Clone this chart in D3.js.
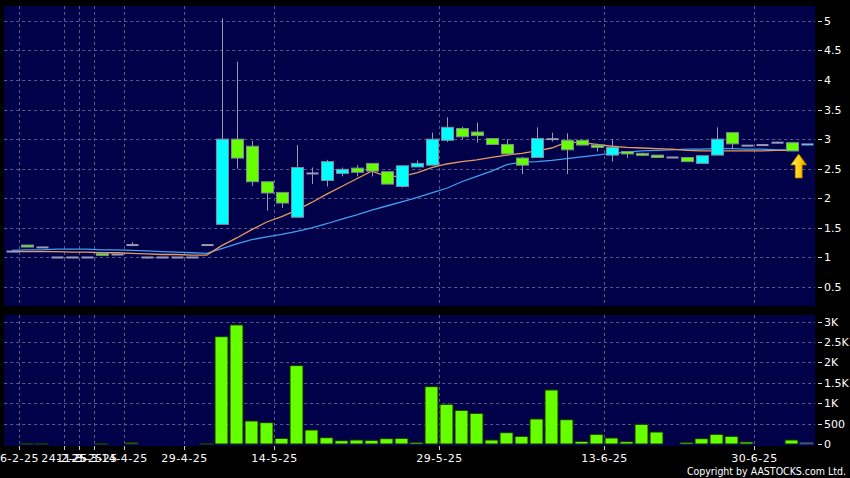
<!DOCTYPE html>
<html><head><meta charset="utf-8">
<script src="https://cdn.jsdelivr.net/npm/d3@7/dist/d3.min.js"></script>
<style>html,body{margin:0;padding:0;background:#000;overflow:hidden}</style>
</head><body><svg id="c" width="850" height="478"></svg>
<script>
// ---- data (one entry per trading slot, left to right) ----
const open  = [1.10,1.21,1.17,1.00,1.00,1.00,1.07,1.05,1.21,1.00,1.00,1.00,1.00,1.21,
  1.56,3.00,2.88,2.28,2.10,1.68,2.42,2.30,2.42,2.51,2.59,2.45,2.20,2.53,
  2.56,2.98,3.18,3.12,3.01,2.91,2.68,2.69,3.00,2.98,2.98,2.90,2.73,
  2.79,2.76,2.73,2.69,2.69,2.59,2.73,3.11,2.89,2.90,2.94,2.94,2.91];
const high  = [1.10,1.21,1.17,1.00,1.00,1.00,1.07,1.05,1.26,1.00,1.00,1.00,1.00,1.21,
  5.04,4.31,2.97,2.28,2.10,2.90,2.52,2.65,2.52,2.56,2.59,2.45,2.55,2.64,
  3.11,3.37,3.21,3.28,3.01,3.00,2.70,3.20,3.11,3.10,2.98,2.90,3.00,
  2.79,2.77,2.73,2.69,2.69,2.72,3.20,3.11,2.89,2.90,2.96,2.94,2.91];
const low   = [1.10,1.19,1.17,1.00,1.00,1.00,1.05,1.05,1.21,0.98,1.00,1.00,1.00,1.21,
  1.56,2.50,2.21,1.79,1.84,1.68,2.24,2.20,2.37,2.37,2.37,2.24,2.18,2.53,
  2.56,2.95,3.00,2.94,2.91,2.75,2.41,2.69,2.96,2.41,2.90,2.79,2.62,
  2.68,2.72,2.69,2.69,2.62,2.59,2.73,2.83,2.89,2.90,2.93,2.80,2.91];
const close = [1.10,1.19,1.17,1.00,1.00,1.00,1.05,1.05,1.21,1.00,1.00,1.00,1.00,1.21,
  3.00,2.68,2.28,2.09,1.92,2.52,2.42,2.62,2.49,2.44,2.46,2.24,2.55,2.59,
  3.00,3.20,3.04,3.06,2.91,2.75,2.56,3.01,3.00,2.82,2.90,2.86,2.86,
  2.75,2.73,2.69,2.69,2.62,2.72,3.00,2.92,2.89,2.90,2.93,2.80,2.91];
const volume = [0,20,10,0,0,0,15,0,30,0,0,0,0,10,
  2630,2917,564,523,139,1920,343,155,82,98,90,131,139,41,
  1405,972,825,752,98,278,188,613,1324,596,65,237,147,
  57,482,294,0,41,131,237,188,49,0,0,98,30];
const maShort = [1.10,1.10,1.10,1.10,1.09,1.09,1.08,1.08,1.07,1.06,1.05,1.05,1.04,1.04,
  1.20,1.33,1.47,1.60,1.69,1.80,1.93,2.07,2.20,2.33,2.46,2.37,2.37,2.43,
  2.52,2.58,2.62,2.65,2.69,2.73,2.76,2.80,2.85,2.95,2.94,2.91,2.88,
  2.86,2.85,2.84,2.83,2.81,2.80,2.80,2.80,2.80,2.80,2.81,2.81,null];
const maLong = [1.12,1.13,1.13,1.14,1.14,1.14,1.13,1.13,1.12,1.11,1.10,1.09,1.08,1.07,
  1.15,1.23,1.30,1.35,1.39,1.44,1.50,1.57,1.65,1.72,1.80,1.87,1.94,2.01,
  2.09,2.17,2.28,2.37,2.46,2.57,2.61,2.62,2.64,2.67,2.70,2.73,2.76,
  2.78,2.80,2.81,2.82,2.83,2.83,2.84,2.84,2.83,2.83,2.82,2.82,null];
const priceTicks = [0.5,1,1.5,2,2.5,3,3.5,4,4.5,5];
const volumeTicks = [0,500,1000,1500,2000,2500,3000];
const volumeTickLabels = ["0","500","1K","1.5K","2K","2.5K","3K"];
const dateTickSlots = [1,4,5,6,8,12,18,29,40,50];
const dateTickLabels = ["6-2-25","24-2-25","11-3-25","25-3-25","14-4-25","29-4-25","14-5-25","29-5-25","13-6-25","30-6-25"];
const markerSlot = 52;

// ---- layout ----
const W = 850, H = 478;
const L = 4.2, R = 814.2;
const pTop = 6, pBot = 306, vTop = 315, vBot = 446;
const svg = d3.select("#c");
svg.append("rect").attr("width", W).attr("height", H).attr("fill", "#000");

const n = open.length;
const x = d3.scaleLinear().domain([0, n]).range([L, R]);
const yP = d3.scaleLinear().domain([0.18, 5.25]).range([pBot, pTop]);
const yV = d3.scaleLinear().domain([0, 3160]).range([444, vTop]);
const bw = (x(1) - x(0));
const idx = d3.range(n);

const navy = "#01014a";
svg.append("rect").attr("x", L).attr("y", pTop).attr("width", R - L + 1).attr("height", pBot - pTop).attr("fill", navy);
svg.append("rect").attr("x", L).attr("y", vTop).attr("width", R - L + 1).attr("height", vBot - vTop).attr("fill", navy);

const gridCol = "#5a5a8c";
const grid = svg.append("g").attr("stroke", gridCol).attr("stroke-width", 1).attr("stroke-dasharray", "3,3");
priceTicks.forEach(v => grid.append("line").attr("x1", L).attr("x2", R + 1)
  .attr("y1", Math.round(yP(v)) + 0.5).attr("y2", Math.round(yP(v)) + 0.5));
volumeTicks.filter(v => v > 0).forEach(v => grid.append("line").attr("x1", L).attr("x2", R + 1)
  .attr("y1", Math.round(yV(v)) + 0.5).attr("y2", Math.round(yV(v)) + 0.5));
dateTickSlots.forEach(s => {
  const xx = Math.round(x(s)) + 0.5;
  grid.append("line").attr("x1", xx).attr("x2", xx).attr("y1", pTop).attr("y2", pBot);
  grid.append("line").attr("x1", xx).attr("x2", xx).attr("y1", vTop).attr("y2", vBot);
});

// ---- moving averages ----
const lineGen = d3.line().defined(d => d[1] != null).x(d => x(d[0] + 0.5)).y(d => yP(d[1]));
svg.append("path").datum(idx.map(i => [i, maLong[i]])).attr("d", lineGen)
  .attr("fill", "none").attr("stroke", "#3fa0f0").attr("stroke-width", 1.3);
svg.append("path").datum(idx.map(i => [i, maShort[i]])).attr("d", lineGen)
  .attr("fill", "none").attr("stroke", "#e89a5c").attr("stroke-width", 1.3);

// ---- candles ----
const cg = svg.append("g");
idx.forEach(i => {
  const cx = Math.round(x(i + 0.5)) + 0.5;
  const o = open[i], c = close[i];
  const up = c > o + 0.015, down = c < o - 0.015;
  if (high[i] > Math.max(o, c) + 0.005 || low[i] < Math.min(o, c) - 0.005) {
    cg.append("line").attr("x1", cx).attr("x2", cx).attr("y1", yP(high[i])).attr("y2", yP(low[i]))
      .attr("stroke", "#9a9aae").attr("stroke-width", 1);
  }
  const top = yP(Math.max(o, c)), bot = yP(Math.min(o, c));
  if (up || down) {
    cg.append("rect").attr("x", cx - 6).attr("y", top).attr("width", 12).attr("height", Math.max(2, bot - top))
      .attr("fill", up ? "#00ffff" : "#66ff00").attr("stroke", "#7c8c9c").attr("stroke-width", 1);
  } else {
    const last = i === n - 1;
    cg.append("rect").attr("x", cx - 6).attr("y", top - 1).attr("width", 12).attr("height", Math.max(2, bot - top + 1))
      .attr("fill", last ? "#7fb4dc" : "#9a9ab4");
  }
});

// ---- marker arrow ----
const ax = x(markerSlot + 0.5) + 7, ay = yP(close[markerSlot]) + 3;
const defs = svg.append("defs");
const grad = defs.append("linearGradient").attr("id", "ag").attr("x1", 0).attr("x2", 1).attr("y1", 0).attr("y2", 0);
grad.append("stop").attr("offset", "0%").attr("stop-color", "#fff27a");
grad.append("stop").attr("offset", "60%").attr("stop-color", "#ffcc00");
grad.append("stop").attr("offset", "100%").attr("stop-color", "#d99000");
svg.append("path")
  .attr("d", `M${ax},${ay} L${ax - 8},${ay + 11} L${ax - 3.5},${ay + 11} L${ax - 3.5},${ay + 24} L${ax + 3.5},${ay + 24} L${ax + 3.5},${ay + 11} L${ax + 8},${ay + 11} Z`)
  .attr("fill", "url(#ag)").attr("stroke", "#a87400").attr("stroke-width", 0.8);

// ---- volume ----
svg.append("g").selectAll("rect").data(idx.filter(i => volume[i] > 0)).join("rect")
  .attr("x", i => Math.round(x(i)) + 1).attr("width", 13)
  .attr("y", i => yV(volume[i])).attr("height", i => Math.max(1, yV(0) - yV(volume[i])))
  .attr("fill", i => i === n - 1 ? "#3e5066" : "#66ff00")
  .attr("stroke", i => i === n - 1 ? "#3e5066" : "#153000").attr("stroke-width", 1);

// ---- axes ----
const font = "DejaVu Sans, Verdana, sans-serif";
const rAxis = svg.append("g").attr("font-family", font).attr("font-size", 11).attr("fill", "#fff");
priceTicks.forEach(v => {
  const yy = Math.round(yP(v)) + 0.5;
  rAxis.append("line").attr("x1", 818).attr("x2", 822).attr("y1", yy).attr("y2", yy).attr("stroke", "#ddd");
  rAxis.append("text").attr("x", 824).attr("y", yy).attr("dy", "0.35em").text(d3.format("")(v));
});
volumeTicks.forEach((v, k) => {
  const yy = Math.round(yV(v)) + 0.5;
  rAxis.append("line").attr("x1", 818).attr("x2", 822).attr("y1", yy).attr("y2", yy).attr("stroke", "#ddd");
  rAxis.append("text").attr("x", 824).attr("y", yy).attr("dy", "0.35em").text(volumeTickLabels[k]);
});

const bAxis = svg.append("g").attr("font-family", font).attr("font-size", 11).attr("fill", "#fff");
dateTickSlots.forEach((s, k) => {
  const xx = Math.round(x(s)) + 0.5;
  bAxis.append("line").attr("x1", xx).attr("x2", xx).attr("y1", vBot).attr("y2", vBot + 4).attr("stroke", "#ccc");
  bAxis.append("text").attr("x", xx).attr("y", 462).attr("text-anchor", "middle")
    .attr("letter-spacing", "0.5px").text(dateTickLabels[k]);
});

svg.append("text").attr("x", 846).attr("y", 475).attr("text-anchor", "end")
  .attr("font-family", "DejaVu Sans Condensed, DejaVu Sans, sans-serif").attr("font-size", 10.5)
  .attr("fill", "#fff").text("Copyright by AASTOCKS.com Ltd.");
</script></body></html>
